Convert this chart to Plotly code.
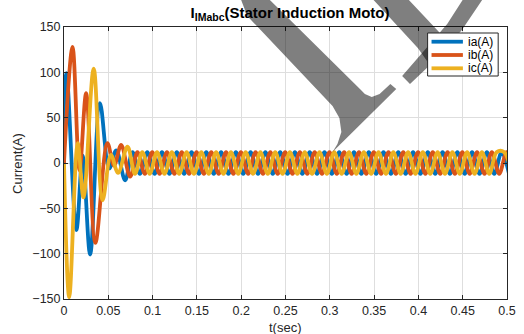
import plotly.graph_objects as go

# ---------------- data (time in ms, current in A) ----------------
# transient extrema
ia_tr_t = [0, 0.6, 2.8, 14, 21, 29.5, 40.6, 51, 59, 69]
ia_tr_v = [0, 80, 99, -74, 8, -101, 66, -6, 14, -19]
ib_tr_t = [0, 9.6, 17.5, 25, 35.4, 49, 56.5, 64.5, 74.6]
ib_tr_v = [0, 128, -8, 77, -88, 22, -3, 20, -15]
ic_tr_t = [0, 5.9, 15.5, 22, 33.5, 43.5, 53, 61]
ic_tr_v = [0, -148, 22, -38, 104, -41, 9, -11]

# steady-state extrema (60 Hz, about +/-12 A)
ia_ss_t = [77.3, 85.7, 94.0, 102.3, 110.6, 119.0, 127.3, 135.6, 144.0, 152.3,
           160.6, 169.0, 177.3, 185.6, 194.0, 202.3, 210.6, 219.0, 227.3, 235.6,
           244.0, 252.3, 260.6, 269.0, 277.3, 285.6, 294.0, 302.3, 310.6, 319.0,
           327.3, 335.6, 344.0, 352.3, 360.6, 369.0, 377.3, 385.6, 394.0, 402.3,
           410.6, 419.0, 427.3, 435.6, 444.0, 452.3, 460.6, 469.0, 477.3, 485.6,
           494.0, 502.3]
ia_ss_v = [12, -12, 12, -12, 12, -12, 12, -12, 12, -12,
           12, -12, 12, -12, 12, -12, 12, -12, 12, -12,
           12, -12, 12, -12, 12, -12, 12, -12, 12, -12,
           12, -12, 12, -12, 12, -12, 12, -12, 12, -12,
           12, -12, 12, -12, 12, -12, 12, -12, 12, -12,
           12, -12]
ib_ss_t = [82.9, 91.3, 99.6, 107.9, 116.2, 124.6, 132.9, 141.2, 149.6, 157.9,
           166.2, 174.6, 182.9, 191.2, 199.6, 207.9, 216.2, 224.6, 232.9, 241.2,
           249.6, 257.9, 266.2, 274.6, 282.9, 291.2, 299.6, 307.9, 316.2, 324.6,
           332.9, 341.2, 349.6, 357.9, 366.2, 374.6, 382.9, 391.2, 399.6, 407.9,
           416.2, 424.6, 432.9, 441.2, 449.6, 457.9, 466.2, 474.6, 482.9, 491.2,
           499.6, 507.9]
ib_ss_v = [12, -12, 12, -12, 12, -12, 12, -12, 12, -12,
           12, -12, 12, -12, 12, -12, 12, -12, 12, -12,
           12, -12, 12, -12, 12, -12, 12, -12, 12, -12,
           12, -12, 12, -12, 12, -12, 12, -12, 12, -12,
           12, -12, 12, -12, 12, -12, 12, -12, 12, -12,
           12, -12]
ic_ss_t = [71.7, 80.1, 88.4, 96.7, 105.0, 113.4, 121.7, 130.0, 138.4, 146.7,
           155.0, 163.4, 171.7, 180.0, 188.4, 196.7, 205.0, 213.4, 221.7, 230.0,
           238.4, 246.7, 255.0, 263.4, 271.7, 280.0, 288.4, 296.7, 305.0, 313.4,
           321.7, 330.0, 338.4, 346.7, 355.0, 363.4, 371.7, 380.0, 388.4, 396.7,
           405.0, 413.4, 421.7, 430.0, 438.4, 446.7, 455.0, 463.4, 471.7, 480.0,
           488.4, 496.7, 505.0]
ic_ss_v = [18, -12, 12, -12, 12, -12, 12, -12, 12, -12,
           12, -12, 12, -12, 12, -12, 12, -12, 12, -12,
           12, -12, 12, -12, 12, -12, 12, -12, 12, -12,
           12, -12, 12, -12, 12, -12, 12, -12, 12, -12,
           12, -12, 12, -12, 12, -12, 12, -12, 12, -12,
           12, 12, -12]

series_names = ["ia(A)", "ib(A)", "ic(A)"]
series_colors = ["#0072BD", "#D95319", "#EDB120"]
x_tick_vals = [0, 0.05, 0.1, 0.15, 0.2, 0.25, 0.3, 0.35, 0.4, 0.45, 0.5]
x_tick_text = ["0", "0.05", "0.1", "0.15", "0.2", "0.25", "0.3", "0.35", "0.4", "0.45", "0.5"]
y_tick_vals = [-150, -100, -50, 0, 50, 100, 150]

series_t = [ia_tr_t + ia_ss_t, ib_tr_t + ib_ss_t, ic_tr_t + ic_ss_t]
series_v = [ia_tr_v + ia_ss_v, ib_tr_v + ib_ss_v, ic_tr_v + ic_ss_v]

# ---------------- figure ----------------
W, H = 524, 334
ML, MR, MT, MB = 64, 8, 27, 35
PW, PH = W - ML - MR, H - MT - MB

fig = go.Figure()
for name, col, tt, vv in zip(series_names, series_colors, series_t, series_v):
    fig.add_trace(go.Scatter(
        x=[t / 1000 for t in tt], y=vv, name=name, mode="lines",
        line=dict(color=col, width=3.8, shape="spline", smoothing=1.0),
        showlegend=False,
    ))

axis_col = "#262626"
font_fam = "Liberation Sans, Arial, sans-serif"
tick_size = 12.5

fig.update_xaxes(
    range=[0, 0.5], tickvals=x_tick_vals, ticktext=x_tick_text,
    showgrid=True, gridcolor="#dedede", gridwidth=1,
    showline=True, linecolor=axis_col, linewidth=1, mirror="ticks",
    ticks="inside", ticklen=4, tickcolor=axis_col, ticklabeloverflow="allow",
    zeroline=False, tickfont=dict(size=tick_size, color=axis_col, family=font_fam),
)
fig.update_yaxes(
    range=[-150, 150], tickvals=y_tick_vals,
    showgrid=True, gridcolor="#dedede", gridwidth=1,
    showline=True, linecolor=axis_col, linewidth=1, mirror="ticks",
    ticks="inside", ticklen=4, tickcolor=axis_col,
    zeroline=False, tickfont=dict(size=tick_size, color=axis_col, family=font_fam),
)


def px(x):
    return (x - ML) / PW


def py(y):
    return (H - MB - y) / PH


def path(points):
    return "M " + " L ".join(f"{px(a):.4f},{py(b):.4f}" for a, b in points) + " Z"


# watermark shapes (pixel outlines)
wm_L = [(244, -2), (251, 16), (338, 106), (345, 118), (347, 132), (343, 144), (338, 152),
        (403, 89), (397, 84), (386, 94), (378, 97), (371, 94), (367, 90), (272, -2)]
wm_B = [(378, -2), (414, -2), (462, 48), (445, 66), (438, 66), (425, 48)]
wm_C = [(417, 84), (445, 58), (470, 30), (492, -2), (472, -2), (455, 24), (432, 50), (409, 76)]

shapes = []
for poly in (wm_L, wm_B, wm_C):
    shapes.append(dict(type="path", xref="paper", yref="paper", path=path(poly),
                       fillcolor="rgba(0,0,0,0.5)", line=dict(width=0), layer="above"))

# legend box drawn by hand
lg_x0, lg_x1, lg_y0, lg_y1 = 435, 507, 33, 76
shapes.append(dict(type="rect", xref="paper", yref="paper",
                   x0=px(lg_x0), x1=px(lg_x1), y0=py(lg_y1), y1=py(lg_y0),
                   fillcolor="white", line=dict(color=axis_col, width=1), layer="above"))
annotations = []
row_y = [41.7, 55.0, 68.3]
for name, col, ry in zip(series_names, series_colors, row_y):
    shapes.append(dict(type="line", xref="paper", yref="paper",
                       x0=px(439), x1=px(471), y0=py(ry), y1=py(ry),
                       line=dict(color=col, width=3.8), layer="above"))
    annotations.append(dict(text=name, xref="paper", yref="paper", x=px(474), y=py(ry),
                            xanchor="left", yanchor="middle", showarrow=False,
                            font=dict(size=12, color="black", family=font_fam)))

# axis titles
annotations.append(dict(text="t(sec)", xref="paper", yref="paper", x=px(290), y=py(327),
                        xanchor="center", yanchor="middle", showarrow=False,
                        font=dict(size=13, color=axis_col, family=font_fam)))
annotations.append(dict(text="Current(A)", xref="paper", yref="paper", x=px(16), y=py(163),
                        xanchor="center", yanchor="middle", showarrow=False, textangle=-90,
                        font=dict(size=13, color=axis_col, family=font_fam)))

fig.update_layout(
    width=W, height=H,
    margin=dict(l=ML, r=MR, t=MT, b=MB),
    paper_bgcolor="white", plot_bgcolor="white",
    font=dict(family=font_fam, color=axis_col),
    title=dict(text="<b>I<sub>IMabc</sub>(Stator Induction Moto)</b>",
               x=290 / W, xanchor="center", y=1 - 13 / H, yanchor="middle",
               font=dict(size=15, color="black", family=font_fam)),
    showlegend=False,
    shapes=shapes,
    annotations=annotations,
)

fig.write_html("out.html")
